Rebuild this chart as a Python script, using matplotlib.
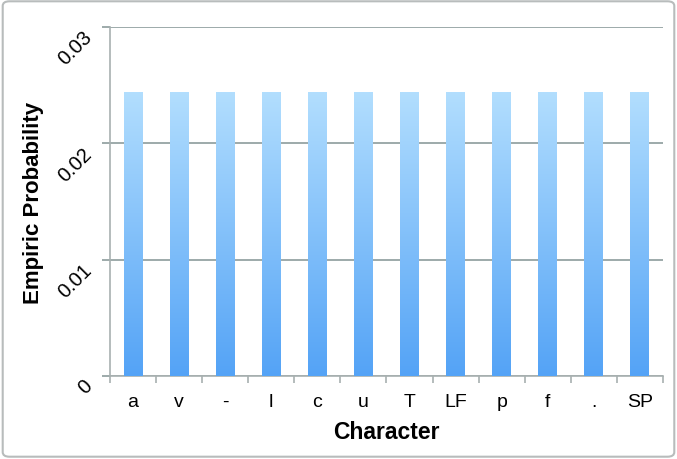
import matplotlib.pyplot as plt
import matplotlib.patches as mpatches
import numpy as np

plt.rcParams['font.family'] = ['Liberation Sans', 'DejaVu Sans']

characters = ['a', 'v', '-', 'l', 'c', 'u', 'T', 'LF', 'p', 'f', '.', 'SP']
probability = [0.0244, 0.0244, 0.0244, 0.0244, 0.0244, 0.0244,
               0.0244, 0.0244, 0.0244, 0.0244, 0.0244, 0.0244]
yticks = [0, 0.01, 0.02, 0.03]
ytick_labels = ['0', '0.01', '0.02', '0.03']

GRID = '#8c9c9c'
AXIS = '#a8b0b0'

fig = plt.figure(figsize=(6.77, 4.60), dpi=100, facecolor='white')
ax = fig.add_axes([0.1625, 0.1804, 0.8168, 0.7586])

x = np.arange(len(characters))
bars = ax.bar(x, probability, width=0.41, facecolor='none', edgecolor='none', zorder=3)

# vertical gradient inside each bar: light on top, stronger blue at the bottom
grad = np.linspace(0, 1, 256).reshape(-1, 1)
top = np.array([178, 222, 254]) / 255
bot = np.array([84, 163, 246]) / 255
img = (bot[None, None, :] * (1 - grad[..., None]) + top[None, None, :] * grad[..., None])
for b in bars:
    x0, w, h = b.get_x(), b.get_width(), b.get_height()
    im = ax.imshow(img, extent=[x0, x0 + w, 0, h], origin='lower',
                   aspect='auto', zorder=3)
    im.set_clip_path(b)

ax.set_xlim(-0.5, len(characters) - 0.5)
ax.set_ylim(0, 0.03)

ax.set_yticks(yticks)
ax.set_yticklabels(ytick_labels, rotation=45, fontsize=14.5, ha='right', va='top',
                   rotation_mode='anchor')
ax.set_xticks(x)
ax.set_xticklabels(characters, fontsize=14)
ax.set_xticks(np.arange(-0.5, len(characters)), minor=True)

ax.tick_params(axis='x', which='major', length=0, pad=12)
ax.tick_params(axis='x', which='minor', length=5, color=AXIS, width=1.2)
ax.tick_params(axis='y', length=6, color=GRID, width=1.2, pad=14)

ax.grid(axis='y', color=GRID, linewidth=1.2, zorder=0)
ax.set_axisbelow(True)
for s in ['top', 'right']:
    ax.spines[s].set_visible(False)
ax.spines['left'].set_color(AXIS)
ax.spines['bottom'].set_color(AXIS)
ax.spines['left'].set_linewidth(1.2)
ax.spines['bottom'].set_linewidth(1.2)

ax.set_xlabel('Character', fontsize=16.5, fontweight='bold', va='center')
ax.set_ylabel('Empiric Probability', fontsize=16, fontweight='bold', va='center')
ax.xaxis.set_label_coords(0.5, -0.16)
ax.yaxis.set_label_coords(-0.139, 0.5)

# outer frame of the chart
fig.patches.append(mpatches.FancyBboxPatch((0.004, 0.005), 0.992, 0.99,
                                           boxstyle='round,pad=0,rounding_size=0.01',
                                           transform=fig.transFigure, facecolor='none',
                                           edgecolor='#b8bcbc', linewidth=1.5))

fig.savefig('out.png', dpi=100, facecolor='white')
